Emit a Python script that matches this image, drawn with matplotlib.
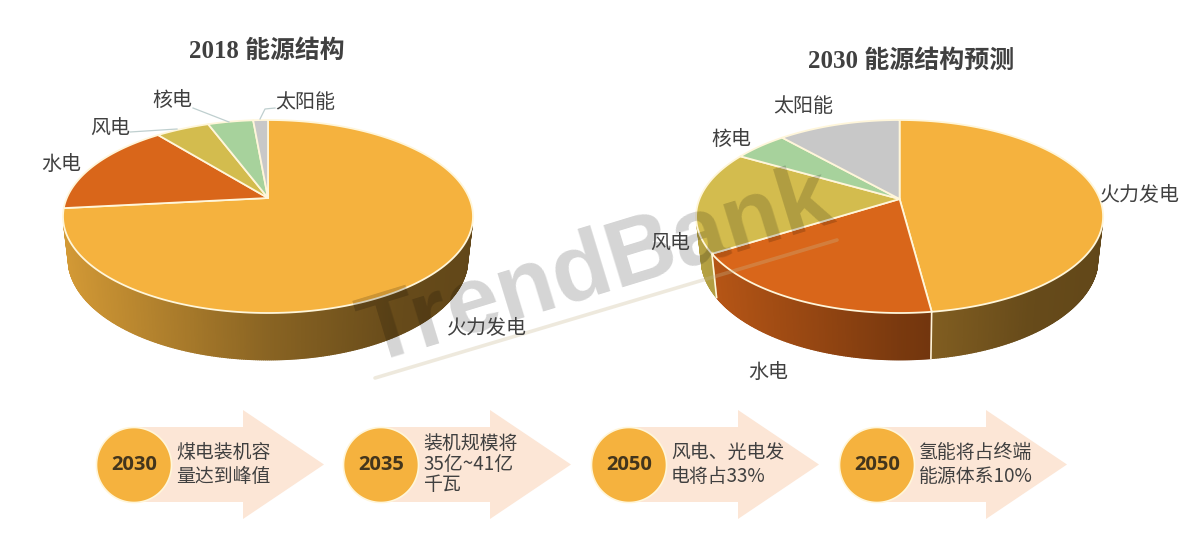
import numpy as np
import matplotlib
matplotlib.use("Agg")
import matplotlib.pyplot as plt
from matplotlib.collections import PolyCollection
from matplotlib.colors import to_rgb

CJK = ['Noto Sans CJK SC', 'DejaVu Sans']
plt.rcParams['font.family'] = CJK

categories = ['火力发电', '水电', '风电', '核电', '太阳能']
share_2018 = [73.3, 15.9, 5.1, 4.3, 1.4]
share_2030 = [47.9, 18.2, 17.2, 5.1, 11.6]
colors = ['#F5B23E', '#D9661A', '#D3BC4E', '#A7D29C', '#C8C8C8']
title_2018 = '2018 能源结构'
title_2030 = '2030 能源结构预测'
milestone_years = ['2030', '2035', '2050', '2050']
milestone_texts = ['煤电装机容\n量达到峰值', '装机规模将\n35亿~41亿\n千瓦',
                   '风电、光电发\n电将占33%', '氢能将占终端\n能源体系10%']

EDGE = '#FFF6DA'
TEXT = '#404040'

fig = plt.figure(figsize=(12.01, 5.44), dpi=100, facecolor='white')
ax = fig.add_axes([0, 0, 1, 1])
ax.set_xlim(0, 1201)
ax.set_ylim(544, 0)
ax.axis('off')


def shade(f):
    return np.interp(f, [0, .5, .82, 1], [.86, .56, .42, .40])


def pie3d(values, cx, cy, up, down, half_w, depth, bottom_w, bottom_h):
    c = (down - up) / (down + up)
    a = up * (1 + c)
    k = half_w * np.sqrt(1 - c ** 2)

    def top(t):
        u, v = np.sin(t), np.cos(t)
        w = 1 + c * v
        return cx + k * u / w, cy - a * v / w

    def bot(t):
        u, v = np.sin(t), np.cos(t)
        w = 1 + c * v
        return cx + k * bottom_w * u / w, cy - a * bottom_h * v / w + depth

    vals = np.asarray(values, float)
    edges = np.concatenate([[0], np.cumsum(vals)]) / vals.sum() * 2 * np.pi
    # side wall, then boundaries, then top face
    for i, col in enumerate(colors):
        ts = np.linspace(edges[i], edges[i + 1], max(int((edges[i + 1] - edges[i]) * 120), 2))
        polys, fcs = [], []
        base = np.array(to_rgb(col))
        for t0, t1 in zip(ts[:-1], ts[1:]):
            if np.cos((t0 + t1) / 2) > -.28:
                continue
            x0, y0 = top(t0); x1, y1 = top(t1)
            x2, y2 = bot(t1); x3, y3 = bot(t0)
            polys.append([(x0, y0), (x1, y1), (x2, y2), (x3, y3)])
            f = ((x0 + x1) / 2 - (cx - half_w)) / (2 * half_w)
            fcs.append(base * shade(f))
        if polys:
            ax.add_collection(PolyCollection(polys, facecolors=fcs, edgecolors=fcs,
                                             linewidths=1.0, zorder=2))
    for e in edges[1:-1]:
        if np.cos(e) < -.2:
            x0, y0 = top(e); x1, y1 = bot(e)
            ax.plot([x0, x1], [y0, y1], color=EDGE, lw=1.2, zorder=3)
    for i, col in enumerate(colors):
        ts = np.linspace(edges[i], edges[i + 1], 200)
        xs, ys = top(ts)
        ax.fill(np.r_[cx, xs], np.r_[cy, ys], facecolor=col, edgecolor=EDGE,
                lw=1.3, joinstyle='round', zorder=4)


pie3d(share_2018, 268, 198, 78, 115, 205, 41, .975, 1.05)
pie3d(share_2030, 899.6, 199, 79, 114, 203.5, 41, .975, 1.05)

# watermark
ax.text(604, 293, 'TrendBank', family='Liberation Sans', weight='bold', fontsize=68,
        color='black', alpha=.17, rotation=17, rotation_mode='anchor',
        ha='center', va='baseline', zorder=5)
ax.plot([375, 837], [378, 240], color='#C8B890', lw=2.6, alpha=.3, zorder=5,
        solid_capstyle='round')

# leader lines
leader = dict(color='#BFCFCF', lw=.9, zorder=6)
ax.plot([130, 177], [132, 129], **leader)
ax.plot([193, 229], [108, 122], **leader)
ax.plot([275, 265, 260], [108, 109, 119], **leader)

# labels
labels_2018 = [(487, 328), (61, 164), (110, 128), (172, 100), (305, 103)]
labels_2030 = [(1140, 195), (768, 372), (670, 243), (731, 139), (803, 106)]
for pos in (labels_2018, labels_2030):
    for name, (x, y) in zip(categories, pos):
        ax.text(x, y, name, fontsize=14.4, color=TEXT, ha='center', va='center', zorder=7)

title_font = ['Liberation Serif', 'Noto Sans CJK SC']
ax.text(267, 51, title_2018, family=title_font, weight='bold', fontsize=17.9,
        color=TEXT, ha='center', va='center', zorder=7)
ax.text(911, 61, title_2030, family=title_font, weight='bold', fontsize=18,
        color=TEXT, ha='center', va='center', zorder=7)

# milestones
circle_x = [134, 381, 629, 877]
for cx, yr, txt in zip(circle_x, milestone_years, milestone_texts):
    xs = [cx, cx + 109, cx + 109, cx + 190, cx + 109, cx + 109, cx]
    ys = [427, 427, 410, 464.5, 519, 502, 502]
    ax.fill(xs, ys, facecolor='#FCE6D6', edgecolor='none', zorder=2)
    t = np.linspace(0, 2 * np.pi, 200)
    ax.fill(cx + 37.5 * np.cos(t), 465 + 37.5 * np.sin(t), facecolor='#F5B23E',
            edgecolor=EDGE, lw=1.2, zorder=3)
    ax.text(cx, 465, yr, family='Open Sans', weight='bold', fontsize=14.5,
            color='#43351C', ha='center', va='center', zorder=4)
    lines = txt.split('\n')
    step = 24 if len(lines) == 2 else 20.5
    y0 = 464 - (len(lines) - 1) * step / 2
    for j, line in enumerate(lines):
        ax.text(cx + 42, y0 + j * step, line, fontsize=13.6, color=TEXT,
                ha='left', va='center', zorder=4)

fig.savefig('out.png', dpi=100, facecolor='white')
